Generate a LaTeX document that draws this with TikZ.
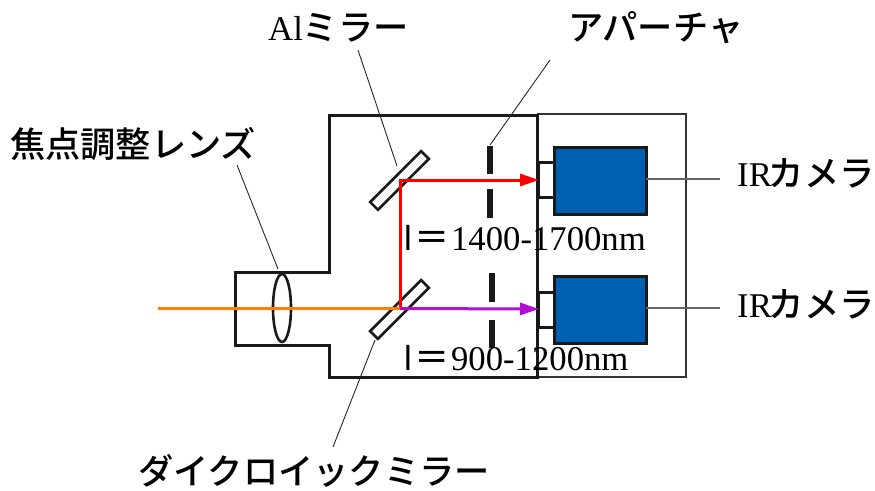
\documentclass[tikz,border=0pt]{standalone}
\usepackage{fontspec}
\setmainfont{Liberation Serif}
\newfontfamily\cjk[Scale=1.015]{Noto Sans CJK JP Medium}
\newfontfamily\barfont{Liberation Sans}
\usetikzlibrary{shapes.geometric, arrows.meta}
\definecolor{camblue}{RGB}{0,96,176}
\definecolor{rayorange}{RGB}{255,128,0}
\definecolor{raypurple}{RGB}{176,16,208}
\tikzset{
    wall/.style={draw=black!90, line width=3pt},
    thinbox/.style={draw=black!80, line width=1.5pt},
    leader/.style={draw=black!85, line width=0.9pt},
    camlead/.style={draw=black!60, line width=1.2pt},
    mirror/.style={draw=black!90, line width=2.6pt, fill=white, minimum width=72pt, minimum height=11pt, inner sep=0pt, rotate=45},
    lens/.style={ellipse, draw=black!90, line width=2.6pt, minimum width=18pt, minimum height=68pt, inner sep=0pt},
    camera/.style={draw=black!90, line width=3pt, fill=camblue, minimum width=92pt, minimum height=67pt, inner sep=0pt},
    port/.style={draw=black!90, line width=3pt, minimum width=16pt, minimum height=35pt, inner sep=0pt},
    slit/.style={draw=black!90, line width=5.2pt},
    ray/.style={line width=3pt},
    rayhead/.style={-{Triangle[length=19pt,width=12pt]}},
    label/.style={inner sep=0pt, anchor=base west, font=\fontsize{34.7}{40}\selectfont}
}
\begin{document}
\begin{tikzpicture}[x=1pt, y=-1pt]
\useasboundingbox (0,0) rectangle (875,490);

% boxes
\draw[thinbox] (537,114) -- (686,114) -- (686,377) -- (537,377);
\draw[wall] (537,115) -- (329,115) -- (329,272) -- (235,272) -- (235,345) -- (329,345) -- (329,377) -- (537,377) -- cycle;

% parts
\node[lens] (lens) at (282,308) {};
\node[mirror] (almirror) at (399.5,180.5) {};
\node[mirror] (dimirror) at (399.5,309.5) {};
\node[port] (portA) at (546,180) {};
\node[port] (portB) at (546,309.5) {};
\node[camera] (camA) at (600,180.5) {};
\node[camera] (camB) at (600,309.5) {};

% aperture
\draw[slit] (490,146) -- (490,174);
\draw[slit] (490,189) -- (490,218);
\draw[slit] (492,273) -- (492,302);
\draw[slit] (492,320) -- (492,348);

% labels
\node[label] (alLabel) at (268,40) {Al{\cjk ミラー}};
\node[label] (apLabel) at (568,40) {\cjk アパーチャ};
\node[label] (lensLabel) at (10,157) {\cjk 焦点調整レンズ};
\node[label] (irA) at (737,186) {IR\kern-3pt{\cjk カメラ}};
\node[label] (irB) at (737,317) {IR\kern-3pt{\cjk カメラ}};
\node[label] (diLabel) at (138,484) {\cjk ダイクロイックミラー};
\node[label] (bandA) at (404,250) {{\barfont l}\kern3pt{\cjk ＝}\kern1pt 1400-1700nm};
\node[label] (bandB) at (404,370) {{\barfont l}\kern3pt{\cjk ＝}\kern1pt 900-1200nm};

% leader ends
\coordinate (alTop) at (358,50);
\coordinate (alEnd) at (397,166);
\coordinate (apTop) at (550,60);
\coordinate (apEnd) at (490,145);
\coordinate (lensTop) at (237,165);
\coordinate (lensEnd) at (278,269);
\coordinate (diEnd) at (375,340);
\coordinate (diBot) at (333,447);
\coordinate (irAEnd) at (720,179);
\coordinate (irBEnd) at (720,308);
\coordinate (camAEnd) at (646,179);
\coordinate (camBEnd) at (646,308);

\draw[leader] (alTop) -- (alEnd);
\draw[leader] (apTop) -- (apEnd);
\draw[leader] (lensTop) -- (lensEnd);
\draw[leader] (diEnd) -- (diBot);
\draw[camlead] (camAEnd) -- (irAEnd);
\draw[camlead] (camBEnd) -- (irBEnd);

% rays
\coordinate (rayIn) at (158,308.5);
\coordinate (split) at (400,308.5);
\coordinate (turn) at (400,180);
\coordinate (hitA) at (539,180);
\coordinate (hitB) at (539,309);
\draw[ray, red, rayhead] (split) -- (turn) -- (hitA);
\draw[ray, raypurple, rayhead] (split) -- (hitB);
\draw[ray, rayorange] (rayIn) -- (split);
\end{tikzpicture}
\end{document}
